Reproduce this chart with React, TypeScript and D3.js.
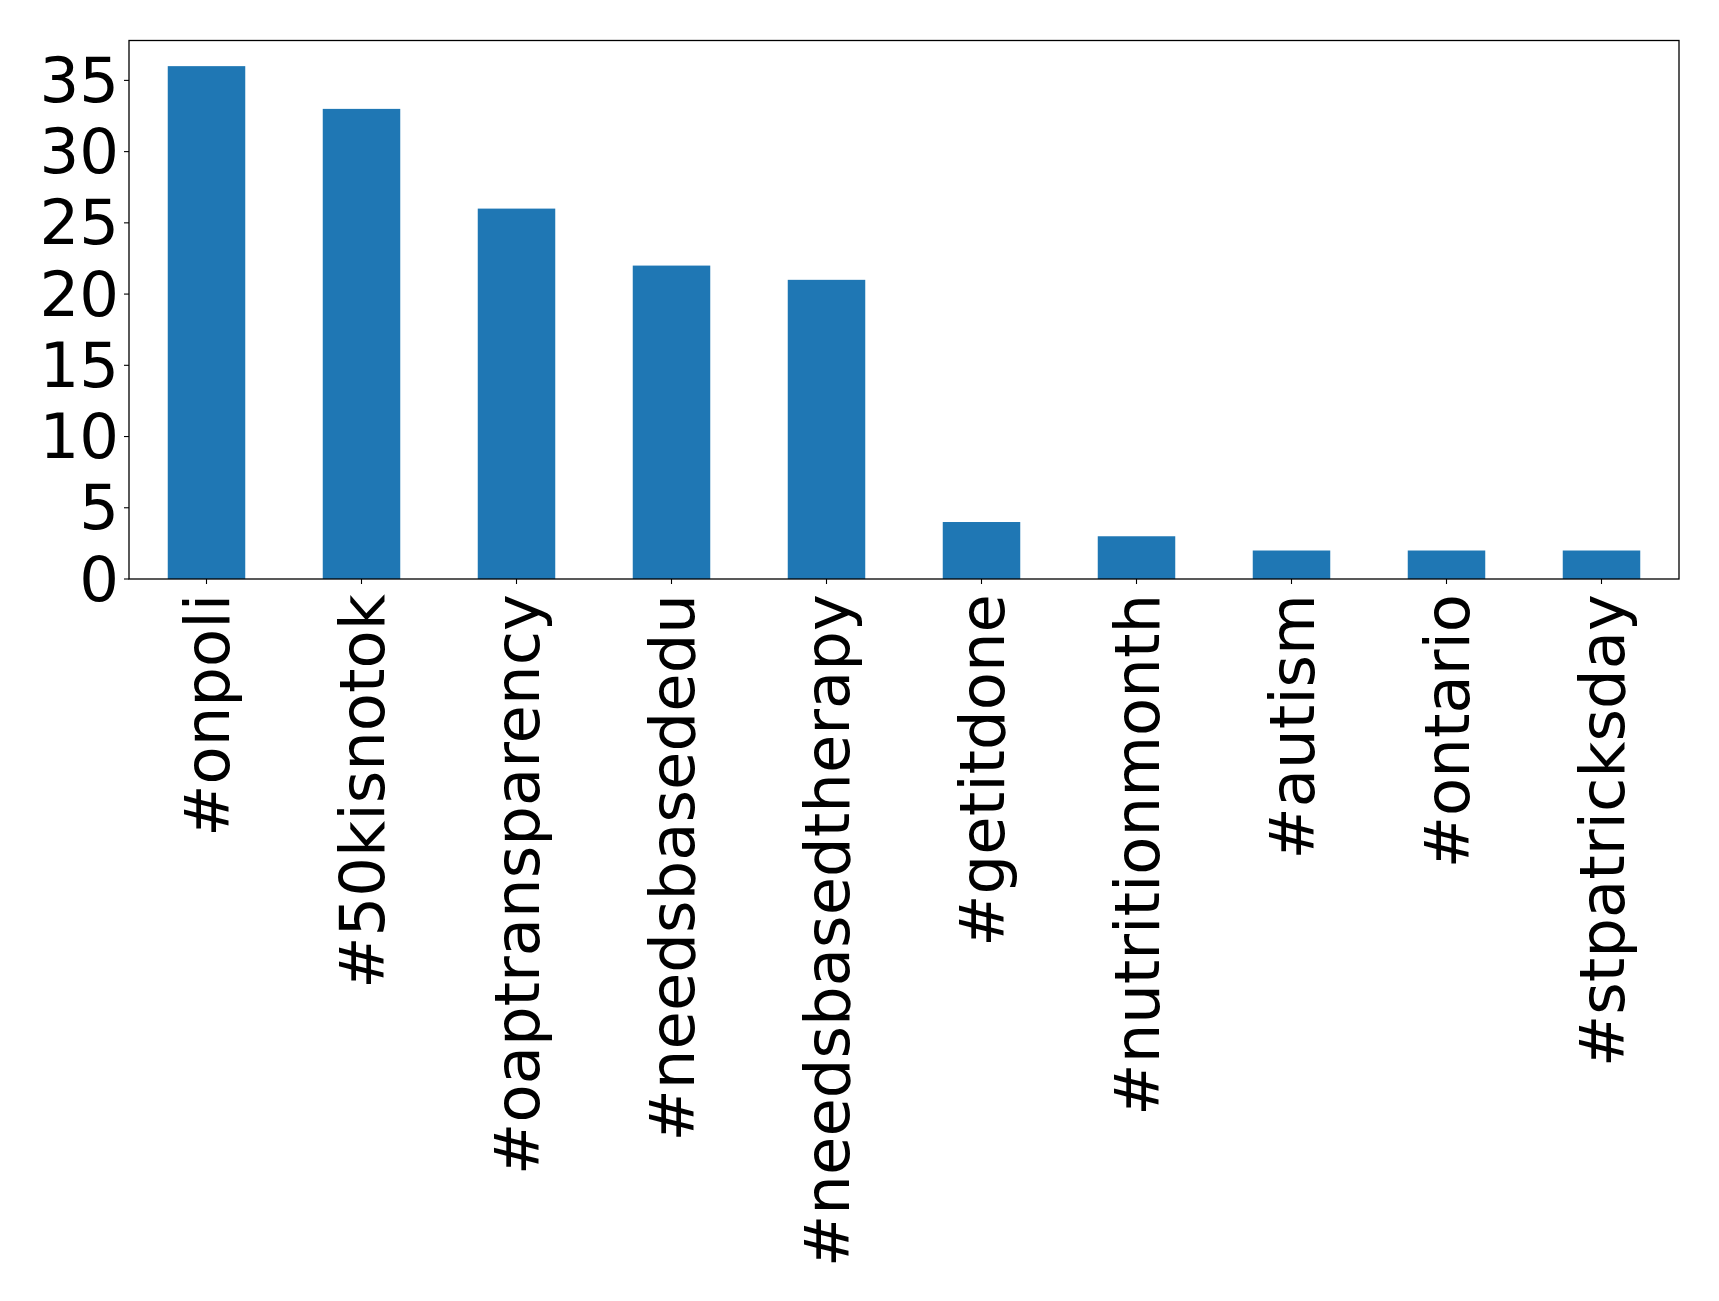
import React from "react";
import * as d3 from "d3";

const categories = ["#onpoli", "#50kisnotok", "#oaptransparency", "#needsbasededu", "#needsbasedtherapy", "#getitdone", "#nutritionmonth", "#autism", "#ontario", "#stpatricksday"];
const values = [36, 33, 26, 22, 21, 4, 3, 2, 2, 2];
const yTicks = [0, 5, 10, 15, 20, 25, 30, 35];

const W = 1719, H = 1301;
const left = 129, right = 1679, top = 40.5, bottom = 579;
const FONT = "DejaVu Sans";
const FS = 62.5;

export default function App() {
  const x = d3.scaleLinear().domain([-0.5, categories.length - 0.5]).range([left, right]);
  const y = d3.scaleLinear().domain([0, d3.max(values)! * 1.05]).range([bottom, top]);
  const bw = x(0.25) - x(-0.25);
  return (
    <svg width={W} height={H} style={{ position: "absolute", left: 0, top: 0, background: "#fff" }}>
      {values.map((v, i) => (
        <rect key={i} x={x(i) - bw / 2} y={y(v)} width={bw} height={y(0) - y(v)} fill="#1f77b4" />
      ))}
      <rect x={left} y={top} width={right - left} height={bottom - top} fill="none" stroke="#000" strokeWidth={1.3} />
      {yTicks.map((t) => (
        <g key={t}>
          <line x1={left - 5} x2={left} y1={y(t)} y2={y(t)} stroke="#000" strokeWidth={1.1} />
          <text x={left - 10} y={y(t)} textAnchor="end" dominantBaseline="central" fontFamily={FONT} fontSize={FS} fill="#000">{t}</text>
        </g>
      ))}
      {categories.map((c, i) => (
        <g key={c}>
          <line x1={x(i)} x2={x(i)} y1={bottom} y2={bottom + 5} stroke="#000" strokeWidth={1.1} />
          <text transform={`translate(${x(i) + 1},${bottom + 15}) rotate(-90)`} textAnchor="end" dominantBaseline="central" fontFamily={FONT} fontSize={FS} fill="#000">{c}</text>
        </g>
      ))}
    </svg>
  );
}
